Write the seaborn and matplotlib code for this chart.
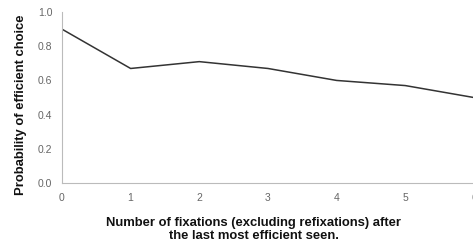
import numpy as np
import pandas as pd
import matplotlib
matplotlib.use("Agg")
import matplotlib.pyplot as plt
import seaborn as sns

# 数据
fixations = [0, 1, 2, 3, 4, 5, 6]
prob_efficient = [0.90, 0.67, 0.71, 0.67, 0.60, 0.57, 0.50]
y_ticks = [0.0, 0.2, 0.4, 0.6, 0.8, 1.0]

df = pd.DataFrame({"fix": fixations, "prob": prob_efficient})

sns.set_style("white")
plt.rcParams['font.family'] = ['Liberation Sans', 'DejaVu Sans']

fig = plt.figure(figsize=(4.73, 2.46), dpi=100)
ax = fig.add_axes([0.131, 0.256, 0.871, 0.695])

sns.lineplot(data=df, x="fix", y="prob", color="#333333", linewidth=1.1, ax=ax)

ax.set_xlim(0, 6)
ax.set_ylim(0, 1.0)
ax.set_xticks(fixations)
ax.set_yticks(y_ticks)
ax.set_yticklabels([f"{v:.1f}" for v in y_ticks])

for side in ["top", "right"]:
    ax.spines[side].set_visible(False)
for side in ["left", "bottom"]:
    ax.spines[side].set_color("#bbbbbb")
    ax.spines[side].set_linewidth(0.8)

ax.tick_params(axis="both", colors="#bbbbbb", labelcolor="#666666",
               labelsize=7.5, length=3, width=0.8, direction="out", pad=4)

ax.set_ylabel("Probability of efficient choice", fontsize=9.4, fontweight="bold",
              color="#111111")
ax.yaxis.set_label_coords(-0.1, 0.46, transform=ax.transAxes)
ax.yaxis.label.set_verticalalignment("center")
ax.set_xlabel("Number of fixations (excluding refixations) after\nthe last most efficient seen.",
              fontsize=9.4, fontweight="bold", color="#111111", linespacing=1.05)
ax.xaxis.set_label_coords(0.465, -0.2, transform=ax.transAxes)
ax.xaxis.label.set_verticalalignment("top")

fig.savefig("out.png", dpi=100)
